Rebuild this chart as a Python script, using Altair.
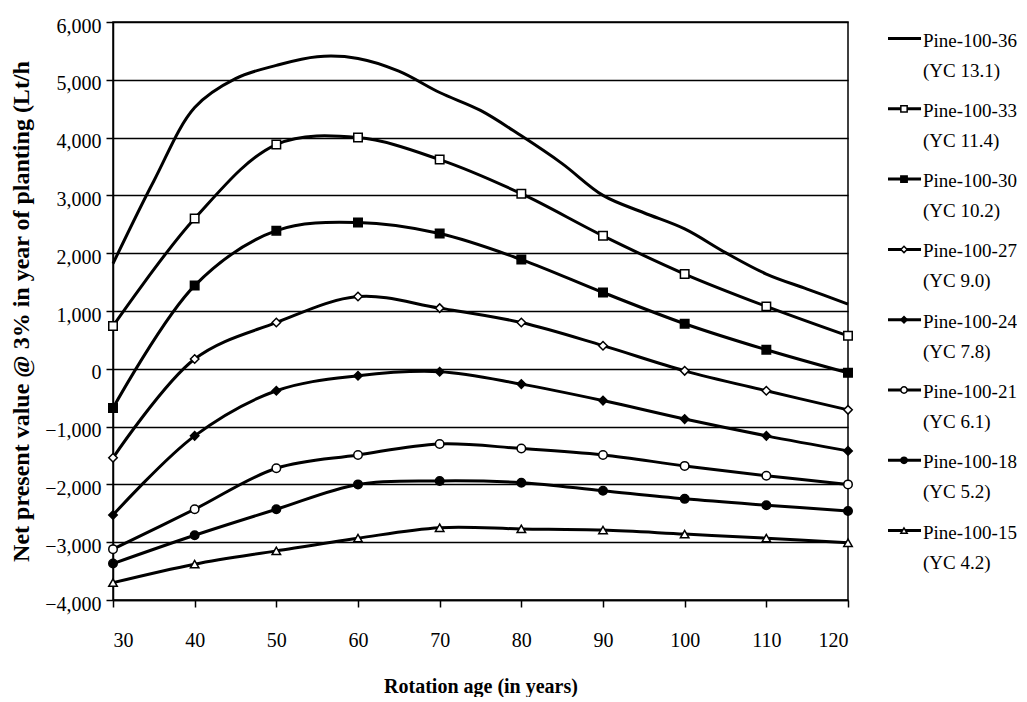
import altair as alt
import pandas as pd

# ---------------- data ----------------
ages = [30, 40, 50, 60, 70, 80, 90, 100, 110, 120]
ages_36 = [30, 35, 40, 45, 50, 55, 60, 65, 70, 75, 80, 85, 90, 95, 100, 105, 110, 115, 120]

npv_36 = [1820, 3250, 4520, 5020, 5250, 5400, 5370, 5150, 4780, 4470,
          4030, 3550, 3000, 2700, 2420, 2010, 1640, 1380, 1120]
npv_33 = [740, 2600, 3880, 4000, 3620, 3030, 2300, 1640, 1080, 570]
npv_30 = [-680, 1440, 2390, 2530, 2340, 1890, 1320, 780, 330, -70]
npv_27 = [-1540, 170, 800, 1250, 1050, 800, 400, -35, -380, -710]
npv_24 = [-2530, -1160, -380, -120, -50, -265, -550, -870, -1160, -1420]
npv_21 = [-3120, -2430, -1720, -1490, -1300, -1380, -1490, -1680, -1850, -2000]
npv_18 = [-3370, -2880, -2430, -2000, -1940, -1970, -2110, -2250, -2360, -2460]
npv_15 = [-3700, -3380, -3150, -2930, -2750, -2770, -2790, -2860, -2930, -3010]

names = ["Pine-100-36", "Pine-100-33", "Pine-100-30", "Pine-100-27",
         "Pine-100-24", "Pine-100-21", "Pine-100-18", "Pine-100-15"]
yield_classes = ["(YC 13.1)", "(YC 11.4)", "(YC 10.2)", "(YC 9.0)",
                 "(YC 7.8)", "(YC 6.1)", "(YC 5.2)", "(YC 4.2)"]

marker_names = names[1:]
marker_shapes = ["square", "square", "diamond", "diamond", "circle", "circle", "triangle-up"]
marker_fills = ["white", "black", "white", "black", "white", "black", "white"]

x_ticks = [30, 40, 50, 60, 70, 80, 90, 100, 110, 120]
y_ticks = [-4000, -3000, -2000, -1000, 0, 1000, 2000, 3000, 4000, 5000, 6000]

x_title = "Rotation age (in years)"
y_title = "Net present value @ 3% in year of planting (Lt/h"

# ---------------- tables ----------------
series_values = [npv_36, npv_33, npv_30, npv_27, npv_24, npv_21, npv_18, npv_15]
rows = []
for name, vals in zip(names, series_values):
    xs = ages_36 if name == "Pine-100-36" else ages
    for a, v in zip(xs, vals):
        rows.append({"series": name, "age": a, "npv": v})
df = pd.DataFrame(rows)

leg = pd.DataFrame({
    "series": names,
    "idx": list(range(len(names))),
    "label": [n + "\n" + y for n, y in zip(names, yield_classes)],
})

FONT = "Liberation Serif"

shape_scale = alt.Scale(domain=marker_names, range=marker_shapes)
fill_scale = alt.Scale(domain=marker_names, range=marker_fills)

x_enc = alt.X(
    "age:Q",
    scale=alt.Scale(domain=[30, 120], nice=False, zero=False),
    axis=alt.Axis(values=x_ticks, title=x_title, grid=False, tickSize=7,
                  labelPadding=23, titlePadding=26, format="d",
                  titleFontSize=20),
)
y_enc = alt.Y(
    "npv:Q",
    scale=alt.Scale(domain=[-4000, 6000], nice=False, zero=False),
    axis=alt.Axis(values=y_ticks, title=y_title, format=",d", grid=True,
                  gridColor="black", gridWidth=1.5, gridOpacity=1,
                  tickSize=7, labelPadding=5, labelOffset=4, titlePadding=11,
                  titleFontSize=24),
)

lines = alt.Chart(df).mark_line(
    color="black", strokeWidth=3, interpolate="catmull-rom"
).encode(x=x_enc, y=y_enc, detail="series:N")

points = alt.Chart(df).transform_filter(
    alt.datum.series != "Pine-100-36"
).mark_point(filled=True, stroke="black", strokeWidth=1.5, size=72, opacity=1).encode(
    x=x_enc, y=y_enc,
    shape=alt.Shape("series:N", scale=shape_scale, legend=None),
    fill=alt.Fill("series:N", scale=fill_scale, legend=None),
)

plot = alt.layer(lines, points).properties(
    width=735, height=578,
    view=alt.ViewBackground(stroke="black", strokeWidth=1.5),
)

# ---------------- hand-made legend ----------------
leg_y = alt.Y("idx:Q", axis=None,
              scale=alt.Scale(domain=[-0.235, 7.987], reverse=True, nice=False, zero=False))

leg_lines = alt.Chart(leg).mark_rule(color="black", strokeWidth=3).encode(
    x=alt.value(30), x2=alt.value(63), y=leg_y
)
leg_points = alt.Chart(leg).transform_filter(
    alt.datum.series != "Pine-100-36"
).mark_point(filled=True, stroke="black", strokeWidth=1.5, size=40, opacity=1).encode(
    x=alt.value(46), y=leg_y,
    shape=alt.Shape("series:N", scale=shape_scale, legend=None),
    fill=alt.Fill("series:N", scale=fill_scale, legend=None),
)
leg_text = alt.Chart(leg).mark_text(
    align="left", baseline="top", lineBreak="\n", font=FONT, fontSize=19,
    lineHeight=30, dy=-7, color="black"
).encode(x=alt.value(65), y=leg_y, text="label:N")

legend = alt.layer(leg_lines, leg_points, leg_text).properties(width=158, height=578)

chart = alt.hconcat(plot, legend, spacing=10, bounds="flush").properties(
    padding={"left": 0, "top": 7, "right": 0, "bottom": 0}
).configure(
    font=FONT
).configure_view(
    stroke=None
).configure_axis(
    labelFont=FONT, labelFontSize=20, labelColor="black",
    titleFont=FONT, titleFontWeight="bold", titleColor="black",
    domainColor="black", domainWidth=1.5, tickColor="black", tickWidth=1.5,
)

chart.save("out.html", embed_options={"renderer": "svg", "actions": False})
